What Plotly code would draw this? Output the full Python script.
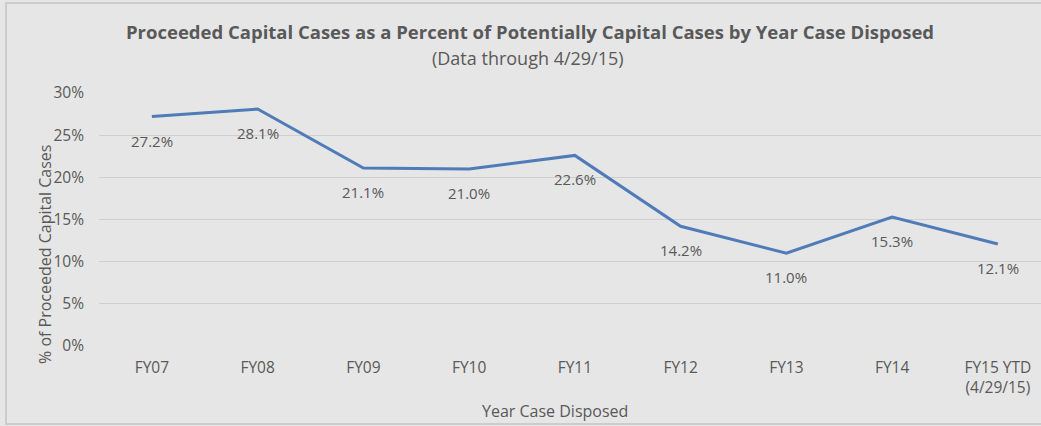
import plotly.graph_objects as go

categories = ["FY07", "FY08", "FY09", "FY10", "FY11", "FY12", "FY13", "FY14", "FY15 YTD<br>(4/29/15)"]
values = [27.2, 28.1, 21.1, 21.0, 22.6, 14.2, 11.0, 15.3, 12.1]
y_ticks = [0, 5, 10, 15, 20, 25, 30]
y_tick_labels = [f"{v}%" for v in y_ticks]

x_idx = list(range(len(categories)))
FONT = "Open Sans, Liberation Sans, sans-serif"
GREY = "#595959"

W, H = 1041, 426
ML, MR, MT, MB = 99, 0, 93, 80
PW, PH = W - ML - MR, H - MT - MB


def px_x(p):
    return (p - ML) / PW


def px_y(p):
    return (H - MB - p) / PH


fig = go.Figure()
fig.add_trace(go.Scatter(
    x=x_idx, y=values, mode="lines",
    line=dict(color="#4f7cb8", width=3),
    hoverinfo="skip", showlegend=False,
))

for xi, v in zip(x_idx, values):
    fig.add_annotation(x=xi, y=v, text=f"{v:.1f}%", showarrow=False,
                       yshift=-24, font=dict(size=15, color=GREY, family=FONT))

common = dict(xref="paper", yref="paper", showarrow=False, xanchor="center", yanchor="middle")

# axis titles
fig.add_annotation(x=px_x(555), y=px_y(411), text="Year Case Disposed",
                   font=dict(size=16, color=GREY, family=FONT), **common)
fig.add_annotation(x=px_x(45), y=px_y(255), text="% of Proceeded Capital Cases", textangle=-90,
                   font=dict(size=16, color=GREY, family=FONT), **common)

# title
fig.add_annotation(x=px_x(530), y=px_y(31),
                   text="<b>Proceeded Capital Cases as a Percent of Potentially Capital Cases by Year Case Disposed</b>",
                   font=dict(size=18.5, color=GREY, family=FONT), **common)
fig.add_annotation(x=px_x(528), y=px_y(58), text="(Data through 4/29/15)",
                   font=dict(size=18, color=GREY, family=FONT), **common)

fig.update_layout(
    width=W, height=H,
    paper_bgcolor="#e6e6e6", plot_bgcolor="#e6e6e6",
    margin=dict(l=ML, r=MR, t=MT, b=MB),
    font=dict(family=FONT, color=GREY),
    xaxis=dict(
        range=[-0.5, 8.408], tickvals=x_idx, ticktext=categories,
        showgrid=False, zeroline=False, showline=False, ticks="",
        tickfont=dict(size=15.5, color=GREY), ticklabelstandoff=10,
        fixedrange=True,
    ),
    yaxis=dict(
        range=[0, 30], tickvals=y_ticks, ticktext=y_tick_labels,
        showgrid=True, gridcolor="#cfcfcf", gridwidth=1, zeroline=False,
        showline=False, ticks="", tickfont=dict(size=15.5, color=GREY),
        ticklabelstandoff=14,
        fixedrange=True,
    ),
)

fig.add_shape(type="rect", xref="paper", yref="paper",
              x0=px_x(6), x1=1.01, y0=px_y(424), y1=px_y(3),
              line=dict(color="#cccccc", width=2), fillcolor="rgba(0,0,0,0)", layer="below")

fig.write_html("out.html", config={"displayModeBar": False},
               post_script="document.body.style.margin='0';")
